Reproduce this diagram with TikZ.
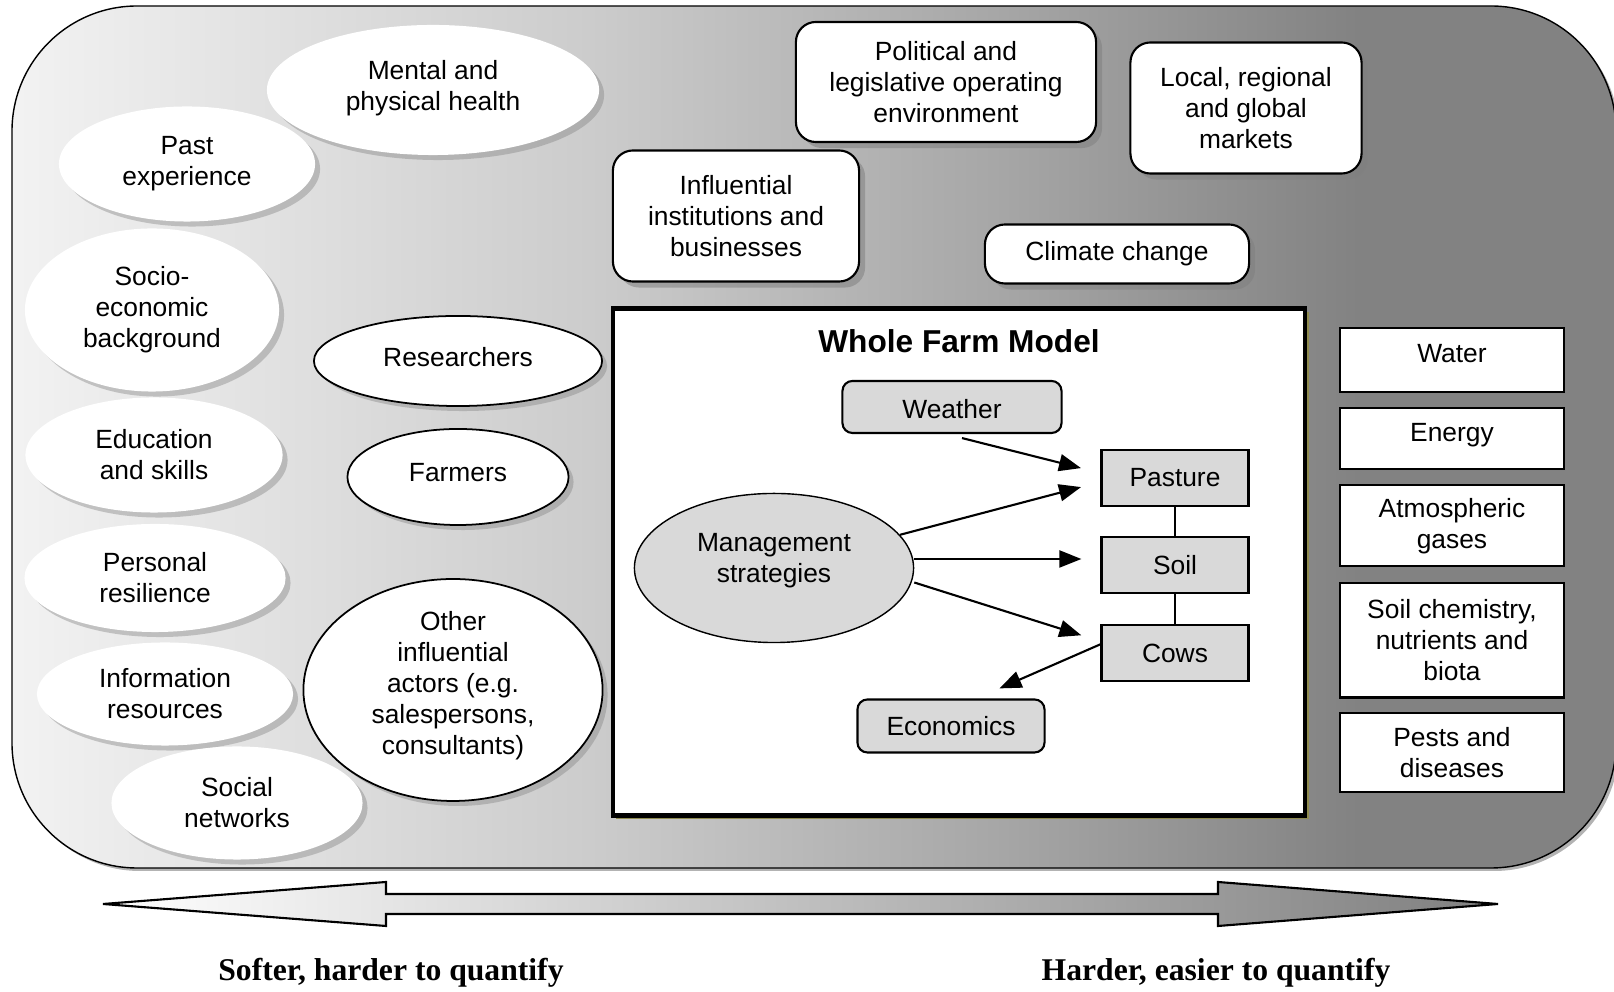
\documentclass[tikz,border=0pt]{standalone}
\usepackage{fontspec}
\setmainfont{Liberation Sans}
\newfontfamily\labelfont{Liberation Serif}
\usetikzlibrary{positioning,shapes,shadows,arrows.meta}

\definecolor{boxgray}{gray}{0.85}
\definecolor{bgA}{gray}{0.95}
\definecolor{bgB}{gray}{0.80}
\definecolor{bgC}{gray}{0.65}
\definecolor{bgD}{gray}{0.51}
\pgfdeclarehorizontalshading{softhard}{100bp}{color(0bp)=(bgA); color(25bp)=(bgA); color(43bp)=(bgB); color(56bp)=(bgC); color(67bp)=(bgD); color(100bp)=(bgD)}

\tikzstyle{softfactor}=[ellipse, fill=white, inner sep=0pt, align=center,
        drop shadow={shadow xshift=0.05cm, shadow yshift=-0.05cm, opacity=0.4}]
\tikzstyle{actor}=[softfactor, draw=black, line width=0.5pt, text depth=2.5pt]
\tikzstyle{context}=[rectangle, draw=black, fill=white, rounded corners=0.2cm, align=center, line width=0.6pt,
        drop shadow={shadow xshift=0.06cm, shadow yshift=-0.06cm, opacity=0.55}]
\tikzstyle{resource}=[rectangle, draw=black, fill=white, align=center, minimum width=2.23cm, line width=0.6pt,
        drop shadow={shadow xshift=0.02cm, shadow yshift=-0.02cm, opacity=0.4}]
\tikzstyle{farmpart}=[rectangle, draw=black, fill=boxgray, minimum width=1.47cm, minimum height=0.56cm, line width=0.6pt]
\tikzstyle{driver}=[farmpart, rounded corners=0.1cm]
\tikzstyle{flow}=[-{Triangle[length=0.22cm, width=0.17cm]}, line width=0.6pt]

\begin{document}
\begin{tikzpicture}[x=0.01cm, y=-0.01cm, font=\fontsize{7.5}{8.8}\selectfont]
        \useasboundingbox (0,0) rectangle (1614,992);
        \clip (0,0) rectangle (1614,992);
        % background panel, soft on the left, hard on the right
        \path[draw=black, shading=softhard, rounded corners=1.25cm,
          drop shadow={shadow xshift=0.03cm, shadow yshift=-0.03cm, opacity=0.6}]
          (12,6) rectangle (1616,868);

        % human factors
        \node (health) [softfactor, minimum width=3.32cm, minimum height=1.30cm, text depth=2.5pt] at (433,90) {Mental and\\physical health};
        \node (past) [softfactor, minimum width=2.56cm, minimum height=1.15cm] at (187,164) {Past\\experience};
        \node (socio) [softfactor, minimum width=2.54cm, minimum height=1.63cm] at (152,310) {Socio-\\economic\\background};
        \node (education) [softfactor, minimum width=2.57cm, minimum height=1.15cm] at (154,455) {Education\\and skills};
        \node (resilience) [softfactor, minimum width=2.61cm, minimum height=1.08cm] at (155,578) {Personal\\resilience};
        \node (information) [softfactor, minimum width=2.56cm, minimum height=1.03cm] at (165,694) {Information\\resources};
        \node (social) [softfactor, minimum width=2.51cm, minimum height=1.13cm] at (237,803) {Social\\networks};

        % actors
        \node (researchers) [actor, minimum width=2.88cm, minimum height=0.90cm] at (458,361) {Researchers};
        \node (farmers) [actor, minimum width=2.21cm, minimum height=0.96cm] at (458,477) {Farmers};
        \node (others) [actor, minimum width=2.99cm, minimum height=2.16cm, text depth=4pt] at (453,690)
        {Other\\influential\\actors (e.g.\\salespersons,\\consultants)};

        % operating context
        \node (political) [context, minimum width=3.00cm, minimum height=1.20cm] at (946,82)
        {Political and\\legislative operating\\environment};
        \node (markets) [context, minimum width=2.31cm, minimum height=1.31cm] at (1246,108)
        {Local, regional\\and global\\markets};
        \node (institutions) [context, minimum width=2.46cm, minimum height=1.31cm] at (736,216)
        {Influential\\institutions and\\businesses};
        \node (climate) [context, minimum width=2.64cm, minimum height=0.59cm] at (1117,254) {Climate change};

        % whole farm model
        \node (wfm) [draw=black, line width=1.3pt, fill=white, minimum width=6.92cm, minimum height=5.07cm,
          drop shadow={shadow xshift=0.035cm, shadow yshift=-0.035cm, fill=olive!45!gray, opacity=1}] at (959,562) {};
        \node (wfmtitle) [font=\bfseries\fontsize{9}{11}\selectfont] at (959,341) {Whole Farm Model};
        \node (weather) [driver, minimum width=2.19cm, minimum height=0.52cm, text height=6.8pt] at (952,407) {Weather};
        \node (pasture) [farmpart] at (1175,478) {Pasture};
        \node (soil) [farmpart, below=0.29cm of pasture] {Soil};
        \node (cows) [farmpart, below=0.30cm of soil] {Cows};
        \node (management) [ellipse, draw=black, fill=boxgray, align=center, minimum width=2.79cm, minimum height=1.49cm,
          text depth=5.5pt] at (774,568) {Management\\strategies};
        \node (economics) [driver, minimum width=1.87cm, minimum height=0.53cm] at (951,726) {Economics};

        \draw[line width=0.8pt] (pasture) -- (soil);
        \draw[line width=0.8pt] (soil) -- (cows);
        \draw[flow, shorten >=0.2cm] ([xshift=0.1cm, yshift=-0.04cm]weather.south) -- ([yshift=0.05cm]pasture.west);
        \draw[flow, shorten >=0.2cm] (management) -- ([yshift=-0.04cm]pasture.west);
        \draw[flow, shorten >=0.19cm] ([yshift=0.09cm]management.east) -- ([yshift=0.09cm]management.east -| soil.west);
        \draw[flow, shorten >=0.2cm] ([yshift=-0.145cm]management.east) -- ([yshift=0.12cm]cows.west);
        \draw[flow, shorten >=0.25cm] ([yshift=0.09cm]cows.west) -- ([xshift=0.255cm]economics.north);

        % biophysical resources
        \node (water) [resource, minimum height=0.64cm, text depth=3.5pt] at (1452,360) {Water};
        \node (energy) [resource, minimum height=0.61cm, text depth=3.5pt, below=0.14cm of water] {Energy};
        \node (gases) [resource, minimum height=0.81cm, below=0.14cm of energy] {Atmospheric\\gases};
        \node (chemistry) [resource, minimum height=1.14cm, below=0.15cm of gases] {Soil chemistry,\\nutrients and\\biota};
        \node (pests) [resource, minimum height=0.79cm, below=0.13cm of chemistry] {Pests and\\diseases};

        % soft to hard scale
        \path[draw=black, line width=0.6pt, left color=white, right color=gray]
          (103,904) -- (386,882) -- (386,894) -- (1218,894) -- (1218,882) -- (1498,904)
          -- (1218,926) -- (1218,914) -- (386,914) -- (386,926) -- cycle;
        \node (softer) [font=\labelfont\bfseries\fontsize{9}{11}\selectfont] at (391,973) {Softer, harder to quantify};
        \node (harder) [font=\labelfont\bfseries\fontsize{9}{11}\selectfont] at (1216,973) {Harder, easier to quantify};
\end{tikzpicture}
\end{document}
